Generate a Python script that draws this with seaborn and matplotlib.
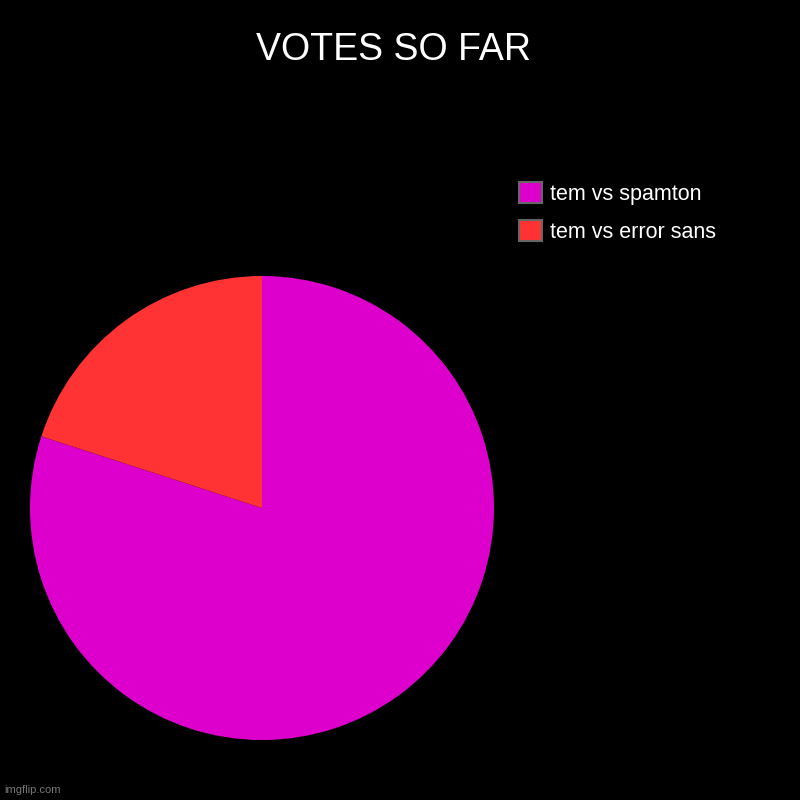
import matplotlib
matplotlib.use("Agg")
import matplotlib.pyplot as plt
from matplotlib.patches import Patch
import seaborn as sns

categories = ["tem vs spamton", "tem vs error sans"]
values = [80, 20]
colors = ["#DD00CC", "#FF3333"]
title = "VOTES SO FAR"

sns.set_theme(style="dark", rc={"figure.facecolor": "black", "axes.facecolor": "black"})
plt.rcParams["font.family"] = ["Liberation Sans", "DejaVu Sans"]

fig = plt.figure(figsize=(8, 8), dpi=100)
fig.patch.set_facecolor("black")
ax = fig.add_axes([0.0375, 0.075, 0.58, 0.58])
ax.set_facecolor("black")
ax.pie(values, colors=colors, startangle=90, counterclock=False,
       wedgeprops=dict(linewidth=0))
ax.set_xlim(-1, 1)
ax.set_ylim(-1, 1)
ax.set_aspect("equal")
ax.axis("off")

fig.text(0.4925, 0.937, title, color="white", fontsize=27, ha="center", va="center")

handles = [Patch(facecolor=c, edgecolor="#666666", linewidth=1.5) for c in colors]
leg = fig.legend(handles, categories, loc="upper left", bbox_to_anchor=(0.649, 0.772),
                 frameon=False, fontsize=15.5, labelcolor="white",
                 borderaxespad=0, borderpad=0,
                 handlelength=1.05, handleheight=1.1, handletextpad=0.4, labelspacing=0.7)

fig.text(0.005, 0.006, "imgflip.com", color="#777777", fontsize=8, ha="left", va="bottom")

fig.savefig("out.png", dpi=100, facecolor="black")
